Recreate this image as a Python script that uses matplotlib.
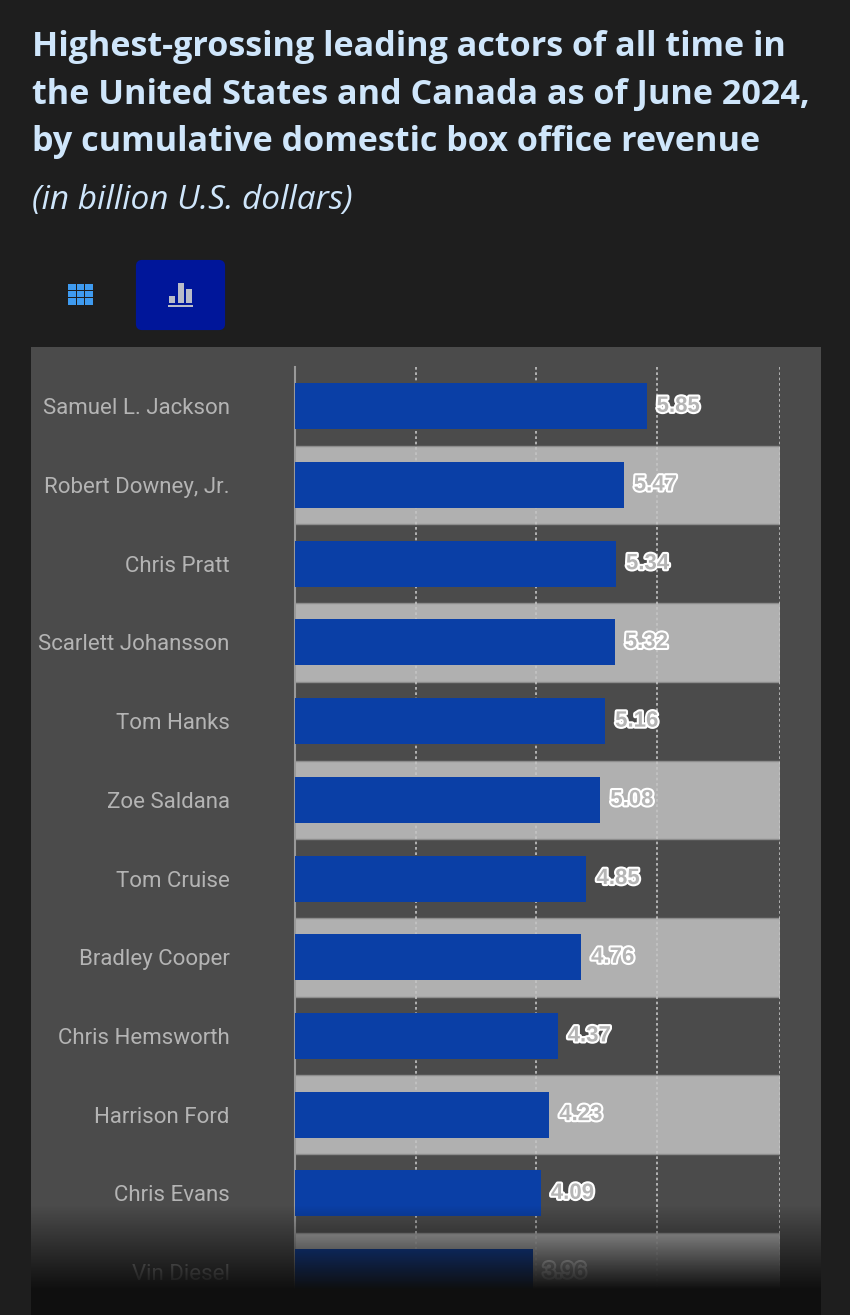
import numpy as np
import matplotlib
matplotlib.use("Agg")
import matplotlib.pyplot as plt
import matplotlib.patheffects as pe
from matplotlib.colors import LinearSegmentedColormap
from matplotlib.patches import FancyBboxPatch, Rectangle

actors = ["Samuel L. Jackson", "Robert Downey, Jr.", "Chris Pratt", "Scarlett Johansson",
          "Tom Hanks", "Zoe Saldana", "Tom Cruise", "Bradley Cooper",
          "Chris Hemsworth", "Harrison Ford", "Chris Evans", "Vin Diesel"]
revenue = [5.85, 5.47, 5.34, 5.32, 5.16, 5.08, 4.85, 4.76, 4.37, 4.23, 4.09, 3.96]
title_lines = ["Highest-grossing leading actors of all time in",
               "the United States and Canada as of June 2024,",
               "by cumulative domestic box office revenue"]
subtitle = "(in billion U.S. dollars)"
grid_values = [2.01, 4.01, 6.03, 8.07]

W, H = 850, 1315
BG = "#1e1e1e"
PANEL = "#4b4b4b"
BAND = "#b0b0b0"
BAR = "#0a3fa6"
TITLE = "#cfe6fb"

fig = plt.figure(figsize=(W / 100, H / 100), dpi=100, facecolor=BG)

# page layer in pixel coordinates, y pointing down
page = fig.add_axes([0, 0, 1, 1])
page.set_xlim(0, W)
page.set_ylim(H, 0)
page.axis("off")

for text, y in zip(title_lines, [47, 95, 142]):
    page.text(32, y, text, color=TITLE, fontsize=24.6, family="Open Sans",
              weight="bold", va="center", ha="left")
page.text(32, 200, subtitle, color=TITLE, fontsize=24, family="Open Sans",
          style="italic", va="center", ha="left")

# view switch buttons
page.add_patch(FancyBboxPatch((138, 262), 85, 66, boxstyle="round,pad=0,rounding_size=4",
                              fc="#00169a", ec="#00169a", lw=3))
for col in range(3):
    for row in range(3):
        page.add_patch(Rectangle((68 + col * 8.6, 284 + row * 7.2), 7.6, 6.2, fc="#3f9bf0", lw=0))
for x, top in [(169, 296), (178, 283), (186, 289)]:
    page.add_patch(Rectangle((x, top), 6, 303 - top, fc="#b9bcc9", lw=0))
page.add_patch(Rectangle((168, 305), 25, 2, fc="#b9bcc9", lw=0))

page.add_patch(Rectangle((31, 347), 790, H - 347, fc=PANEL, lw=0))

# chart: one row is 78.7 px, one dollar billion about 60.1 px
n = len(actors)
ax_top, ax_bottom = 367, 367 + 78.7 * n
ax_left, ax_right = 295, 780
ax = fig.add_axes([ax_left / W, 1 - ax_bottom / H, (ax_right - ax_left) / W, (ax_bottom - ax_top) / H])
ax.set_facecolor("none")
ax.set_xlim(0, (ax_right - ax_left) / 60.1)
ax.set_ylim(n - 0.5, -0.5)
y = np.arange(n)

for i in y[1::2]:
    ax.axhspan(i - 0.5, i + 0.5, color=BAND, lw=0, zorder=1)
    ax.axhline(i - 0.5, color="#8d8d8d", lw=1, zorder=1.5)
    ax.axhline(i + 0.5, color="#8d8d8d", lw=1, zorder=1.5)
ax.vlines(grid_values, -0.5, n - 0.5, colors="#c4c4c4", lw=1.2, linestyles=(0, (1.6, 1.6)), zorder=2)
ax.barh(y, revenue, height=46 / 78.7, color=BAR, zorder=3)

for i, v in zip(y, revenue):
    ax.text(v + 10 / 60.1, i, f"{v:.2f}", color="#b5b5b5", fontsize=16, family="Liberation Sans",
            weight="bold", va="center", ha="left", zorder=4,
            path_effects=[pe.withStroke(linewidth=3, foreground="white")])

ax.set_yticks(y, actors)
ax.set_xticks([])
ax.tick_params(axis="y", length=0, pad=47, labelsize=16, labelcolor="#b4b4b4")
for label in ax.get_yticklabels():
    label.set_family("Roboto")
for side in ["top", "right", "bottom"]:
    ax.spines[side].set_visible(False)
ax.spines["left"].set_color("#999999")
ax.spines["left"].set_linewidth(1.5)

# bottom of the panel fades to near black, over the chart as well
fade = fig.add_axes([31 / W, 0, 790 / W, (H - 1205) / H])
fade.axis("off")
cmap = LinearSegmentedColormap.from_list("fade", [(0.06, 0.06, 0.06, 0), (0.06, 0.06, 0.06, 1)])
fade.imshow(np.clip(np.linspace(0, 1.3, 110), 0, 1)[:, None], aspect="auto", cmap=cmap, vmin=0, vmax=1)

fig.savefig("out.png", dpi=100, facecolor=BG)
